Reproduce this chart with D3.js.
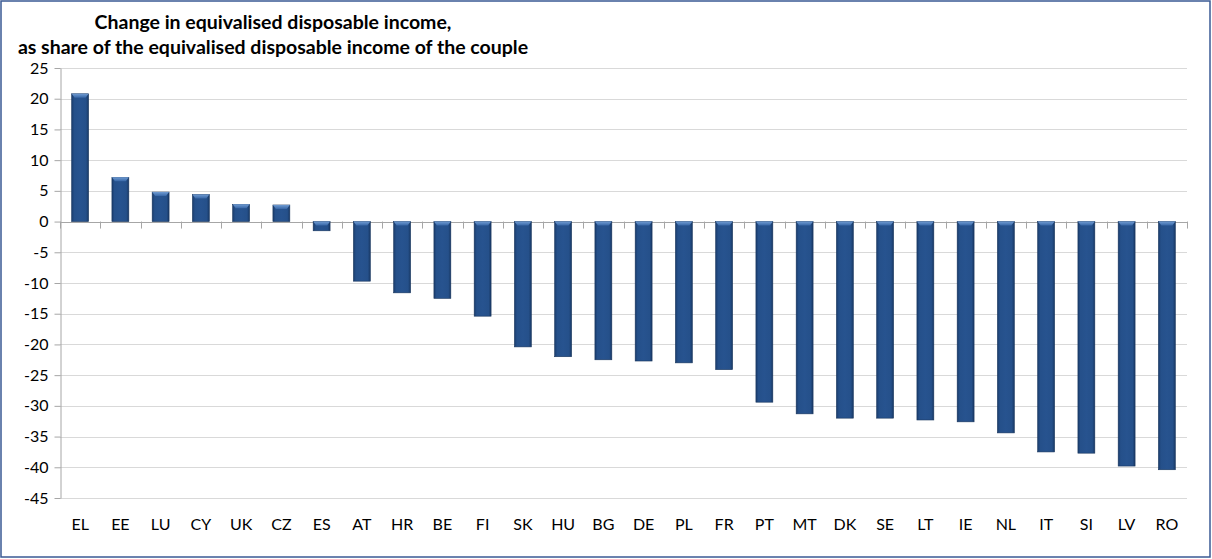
<!DOCTYPE html>
<html lang="en">
<head>
    <meta charset="UTF-8">
    <title>Change in equivalised disposable income</title>
    <script src="https://cdn.jsdelivr.net/npm/d3@7"></script>
    <style>
        body {
            margin: 0;
            padding: 0;
            background: #fff;
        }
        text {
            font-family: Lato, "Open Sans", sans-serif;
            fill: #000;
        }
        .title {
            font-weight: bold;
            font-size: 19.5px;
            text-anchor: middle;
        }
        .grid line {
            stroke: #d9d9d9;
            stroke-width: 1;
        }
        .axis path, .axis line {
            stroke: #a6a6a6;
        }
        .axis text {
            font-size: 16px;
        }
    </style>
</head>
<body>
<svg width="1212" height="559"></svg>
<script>
    // categories and values
    var countries = ['EL', 'EE', 'LU', 'CY', 'UK', 'CZ', 'ES', 'AT', 'HR', 'BE', 'FI', 'SK', 'HU', 'BG',
        'DE', 'PL', 'FR', 'PT', 'MT', 'DK', 'SE', 'LT', 'IE', 'NL', 'IT', 'SI', 'LV', 'RO'];
    var change = [20.8, 7.2, 4.8, 4.4, 2.8, 2.7, -1.5, -9.7, -11.6, -12.5, -15.4, -20.4, -22.0, -22.5,
        -22.7, -23.0, -24.1, -29.4, -31.3, -32.0, -32.0, -32.3, -32.6, -34.4, -37.5, -37.7, -39.8, -40.4];
    var yTicks = [25, 20, 15, 10, 5, 0, -5, -10, -15, -20, -25, -30, -35, -40, -45];
    var titleLines = ['Change in equivalised disposable income,',
        'as share of the equivalised disposable income of the couple'];

    var svg = d3.select('svg');
    var pLeft = 60, pRight = 1187, pTop = 68, pBottom = 498;

    var x = d3.scaleBand().domain(countries).range([pLeft, pRight]).paddingInner(0.58).paddingOuter(0.29);
    var y = d3.scaleLinear().domain([-45, 25]).range([pBottom, pTop]);

    // gradients for the bevelled bars
    var defs = svg.append('defs');
    var g1 = defs.append('linearGradient').attr('id', 'barGrad').attr('x1', 0).attr('x2', 1).attr('y1', 0).attr('y2', 0);
    g1.append('stop').attr('offset', '0%').attr('stop-color', '#1a3c6c');
    g1.append('stop').attr('offset', '15%').attr('stop-color', '#25508a');
    g1.append('stop').attr('offset', '50%').attr('stop-color', '#27538f');
    g1.append('stop').attr('offset', '85%').attr('stop-color', '#25508a');
    g1.append('stop').attr('offset', '100%').attr('stop-color', '#183864');
    var g2 = defs.append('linearGradient').attr('id', 'capGrad').attr('x1', 0).attr('x2', 0).attr('y1', 0).attr('y2', 1);
    g2.append('stop').attr('offset', '0%').attr('stop-color', '#6f9bd2');
    g2.append('stop').attr('offset', '100%').attr('stop-color', '#3766a6');

    // gridlines
    svg.append('g').attr('class', 'grid')
        .selectAll('line').data(yTicks).enter().append('line')
        .attr('x1', pLeft).attr('x2', pRight)
        .attr('y1', function (d) { return Math.round(y(d)) + 0.5; })
        .attr('y2', function (d) { return Math.round(y(d)) + 0.5; });

    // y axis (plain hyphen for negatives, like the original)
    var yAxis = svg.append('g').attr('class', 'axis')
        .attr('transform', 'translate(' + (pLeft + 0.5) + ',0)')
        .call(d3.axisLeft(y).tickValues(yTicks).tickSize(6).tickPadding(6).tickSizeOuter(0)
            .tickFormat(function (d) { return String(d); }));
    yAxis.select('.domain').attr('stroke', '#bfbfbf');

    // x axis on zero line, ticks between categories
    var step = x.step();
    var boundaries = d3.range(countries.length + 1).map(function (i) { return pLeft + i * step; });
    var zeroG = svg.append('g').attr('class', 'axis');
    zeroG.append('line').attr('x1', pLeft).attr('x2', pRight)
        .attr('y1', Math.round(y(0)) + 0.5).attr('y2', Math.round(y(0)) + 0.5).attr('stroke', '#bfbfbf');
    zeroG.selectAll('line.tk').data(boundaries).enter().append('line').attr('class', 'tk')
        .attr('x1', function (d) { return Math.round(d) + 0.5; })
        .attr('x2', function (d) { return Math.round(d) + 0.5; })
        .attr('y1', y(0)).attr('y2', y(0) + 7)
        .attr('stroke', '#a6a6a6');

    // bars
    var bars = svg.append('g').selectAll('g').data(change).enter().append('g');
    bars.append('rect')
        .attr('x', function (d, i) { return x(countries[i]); })
        .attr('y', function (d) { return y(Math.max(0, d)); })
        .attr('width', x.bandwidth())
        .attr('height', function (d) { return Math.abs(y(d) - y(0)); })
        .attr('fill', 'url(#barGrad)')
        .attr('stroke', '#17345c')
        .attr('stroke-width', 0.6);
    bars.append('path')
        .attr('d', function (d, i) {
            var x0 = x(countries[i]), w = x.bandwidth(), yt = y(Math.max(0, d));
            var h = Math.min(4, Math.abs(y(d) - y(0)) / 2);
            return 'M' + x0 + ',' + yt + 'L' + (x0 + w) + ',' + yt +
                'L' + (x0 + w - 3) + ',' + (yt + h) + 'L' + (x0 + 3) + ',' + (yt + h) + 'Z';
        })
        .attr('fill', 'url(#capGrad)');

    // category labels
    svg.append('g').attr('class', 'axis').selectAll('text').data(countries).enter().append('text')
        .attr('x', function (d) { return x(d) + x.bandwidth() / 2; })
        .attr('y', 530)
        .attr('text-anchor', 'middle')
        .text(function (d) { return d; });

    // title
    svg.selectAll('text.title').data(titleLines).enter().append('text')
        .attr('class', 'title')
        .attr('x', 273)
        .attr('y', function (d, i) { return 29 + i * 25; })
        .text(function (d) { return d; });

    // frame
    svg.append('rect').attr('x', 1).attr('y', 1).attr('width', 1209).attr('height', 556)
        .attr('fill', 'none').attr('stroke', '#3a5a94').attr('stroke-width', 1.5);
</script>
</body>
</html>
